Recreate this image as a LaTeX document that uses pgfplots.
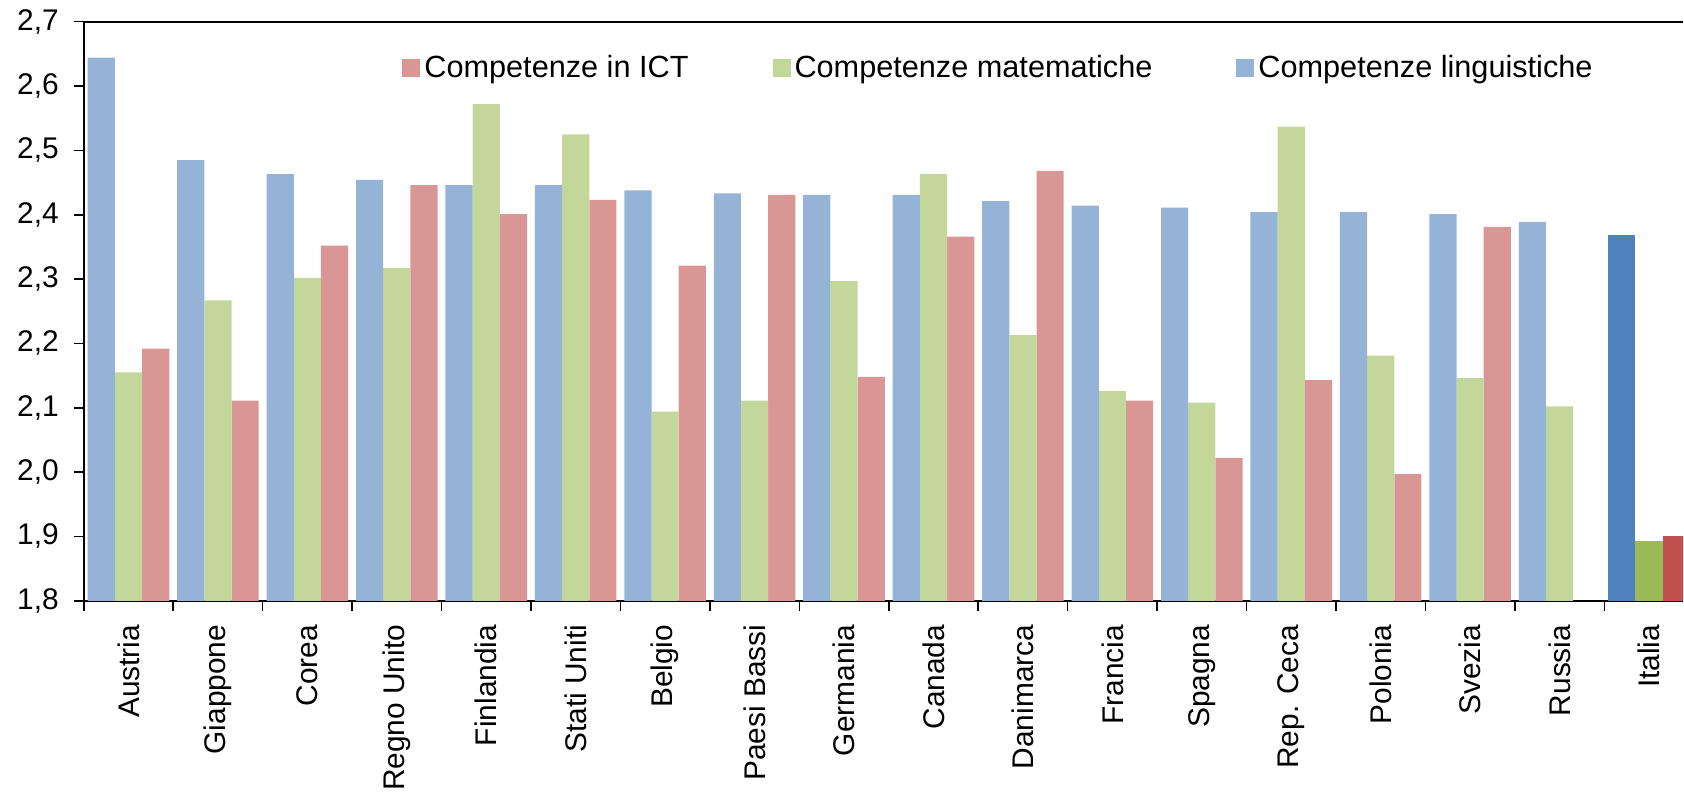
\documentclass[border=0pt]{standalone}
\usepackage{fontspec}
\setmainfont{Liberation Sans}
\usepackage{pgfplots}
\pgfplotsset{compat=1.18}

\definecolor{lingL}{HTML}{95B3D7}
\definecolor{mateL}{HTML}{C4D79B}
\definecolor{ictL}{HTML}{DA9694}
\definecolor{lingD}{HTML}{4F81BD}
\definecolor{mateD}{HTML}{9BBB59}
\definecolor{ictD}{HTML}{C0504D}

\begin{document}
\begin{tikzpicture}
	\begin{axis}[
			scale only axis,
			width=800bp, height=289.7bp,
			ybar, bar width=0.304,
			xmin=-0.5, xmax=17.38,
			ymin=1.8, ymax=2.7,
			ytick={1.8,1.9,...,2.71},
			axis x line*=box, axis y line*=left,
			axis line style={line width=1bp},
			tick style={black, line width=0.8bp},
			tick align=outside,
			xtick pos=lower, ytick pos=left,
			major tick length=5bp, minor tick length=5bp,
			xtick={0,...,17},
			xticklabels={Austria,Giappone,Corea,Regno Unito,Finlandia,Stati Uniti,Belgio,Paesi Bassi,Germania,Canada,Danimarca,Francia,Spagna,Rep. Ceca,Polonia,Svezia,Russia,Italia},
			major x tick style={draw=none},
			minor xtick={-0.5,0.5,...,16.6},
			% rotated labels: xshift moves them down the page
			xticklabel style={rotate=90, anchor=east, font=\fontsize{15}{18}\selectfont, xshift=-3.5bp},
			yticklabel style={font=\fontsize{15}{18}\selectfont, xshift=-4bp},
			/pgf/number format/.cd, fixed, fixed zerofill, precision=1, use comma, assume math mode=true,
			/pgfplots/.cd,
			legend style={at={(0.5726,0.92)}, anchor=center, draw=none, fill=none,
				legend columns=-1, font=\fontsize{15.4}{18}\selectfont,
				/tikz/every even column/.append style={column sep=40bp}},
			legend image code/.code={\fill[#1] (0bp,-4.5bp) rectangle (9bp,4.5bp);},
		]
		% Competenze in ICT
		\addplot [fill=ictL, draw=none, bar shift=0.304] coordinates {
			(0,2.192) (1,2.111) (2,2.352) (3,2.446) (4,2.401) (5,2.423)
			(6,2.321) (7,2.431) (8,2.148) (9,2.366) (10,2.468) (11,2.111)
			(12,2.022) (13,2.143) (14,1.997) (15,2.381)};
		% Competenze matematiche
		\addplot [fill=mateL, draw=none, bar shift=0] coordinates {
			(0,2.155) (1,2.267) (2,2.302) (3,2.317) (4,2.572) (5,2.525)
			(6,2.094) (7,2.111) (8,2.297) (9,2.463) (10,2.213) (11,2.126)
			(12,2.108) (13,2.537) (14,2.181) (15,2.146) (16,2.102)};
		% Competenze linguistiche
		\addplot [fill=lingL, draw=none, bar shift=-0.304] coordinates {
			(0,2.644) (1,2.485) (2,2.463) (3,2.454) (4,2.446) (5,2.446)
			(6,2.438) (7,2.433) (8,2.431) (9,2.431) (10,2.421) (11,2.414)
			(12,2.411) (13,2.404) (14,2.404) (15,2.401) (16,2.389)};
		\legend{Competenze in ICT, Competenze matematiche, Competenze linguistiche}
		% Italia
		\addplot [fill=lingD, draw=none, bar shift=-0.304, forget plot] coordinates {(17,2.369)};
		\addplot [fill=mateD, draw=none, bar shift=0, forget plot] coordinates {(17,1.893)};
		\addplot [fill=ictD, draw=none, bar shift=0.304, forget plot] coordinates {(17,1.901)};
	\end{axis}
	% white margin on the left and at the top, as in the reference
	\path (current axis.north west) ++(-41.9bp,10.85bp);
\end{tikzpicture}
\end{document}
